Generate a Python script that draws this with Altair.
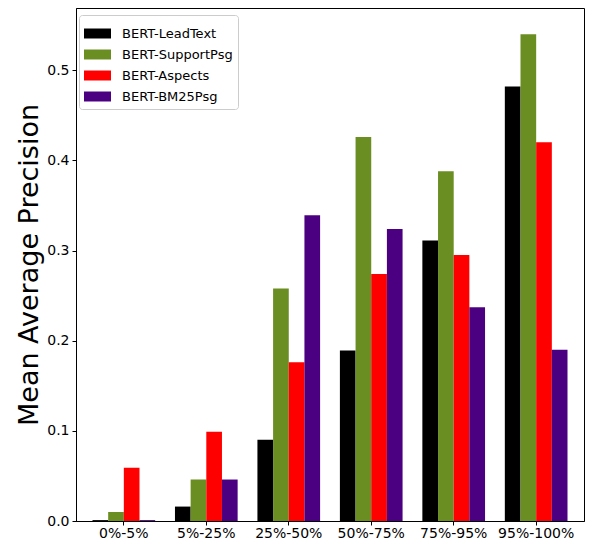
import altair as alt
import pandas as pd

groups = ["0%-5%", "5%-25%", "25%-50%", "50%-75%", "75%-95%", "95%-100%"]
series = ["BERT-LeadText", "BERT-SupportPsg", "BERT-Aspects", "BERT-BM25Psg"]
colors = ["#000000", "#6b8e23", "#ff0000", "#4b0082"]

lead_text = [0.001, 0.016, 0.090, 0.189, 0.311, 0.482]
support_psg = [0.010, 0.046, 0.258, 0.426, 0.388, 0.540]
aspects = [0.059, 0.099, 0.176, 0.274, 0.295, 0.420]
bm25_psg = [0.001, 0.046, 0.339, 0.324, 0.237, 0.190]

rows = []
for s, vals in zip(series, [lead_text, support_psg, aspects, bm25_psg]):
    for g, v in zip(groups, vals):
        rows.append({"group": g, "model": s, "value": v})
df = pd.DataFrame(rows)

font = "DejaVu Sans"

chart = alt.Chart(df).mark_bar().encode(
    x=alt.X("group:N", sort=groups, title=None,
            scale=alt.Scale(paddingInner=0.24, paddingOuter=0.2),
            axis=alt.Axis(labelAngle=0, labelFontSize=14, labelFont=font,
                          labelColor="black", tickColor="black", tickSize=4,
                          domainColor="black", labelPadding=1)),
    xOffset=alt.XOffset("model:N", sort=series,
                        scale=alt.Scale(paddingInner=0, paddingOuter=0)),
    y=alt.Y("value:Q", title="Mean Average Precision",
            scale=alt.Scale(domain=[0, 0.569], nice=False, zero=True),
            axis=alt.Axis(values=[0, 0.1, 0.2, 0.3, 0.4, 0.5], format=".1f",
                          labelFontSize=14, labelFont=font, labelColor="black",
                          tickColor="black", tickSize=4, domainColor="black",
                          grid=False, titleFontSize=27, titleFont=font,
                          titleFontWeight="normal", titleColor="black",
                          titlePadding=3, labelPadding=3)),
    color=alt.Color("model:N", sort=series,
                    scale=alt.Scale(domain=series, range=colors),
                    legend=alt.Legend(title=None, orient="none", legendX=3, legendY=7,
                                      symbolType="M-1,-0.37H1V0.37H-1Z",
                                      symbolSize=729, symbolStrokeWidth=0,
                                      labelFontSize=13, labelFont=font,
                                      labelColor="black", labelOffset=11,
                                      rowPadding=0, padding=5,
                                      strokeColor="#cccccc", fillColor="white",
                                      cornerRadius=3)),
).properties(
    width=508, height=513,
    autosize=alt.AutoSizeParams(type="none"),
    padding={"left": 68, "top": 0, "right": 1, "bottom": 19},
).configure_view(
    stroke="black", strokeWidth=1
).configure_axis(
    domainWidth=1, tickWidth=1
)

chart.save("out.html", embed_options={"renderer": "svg", "actions": False})
